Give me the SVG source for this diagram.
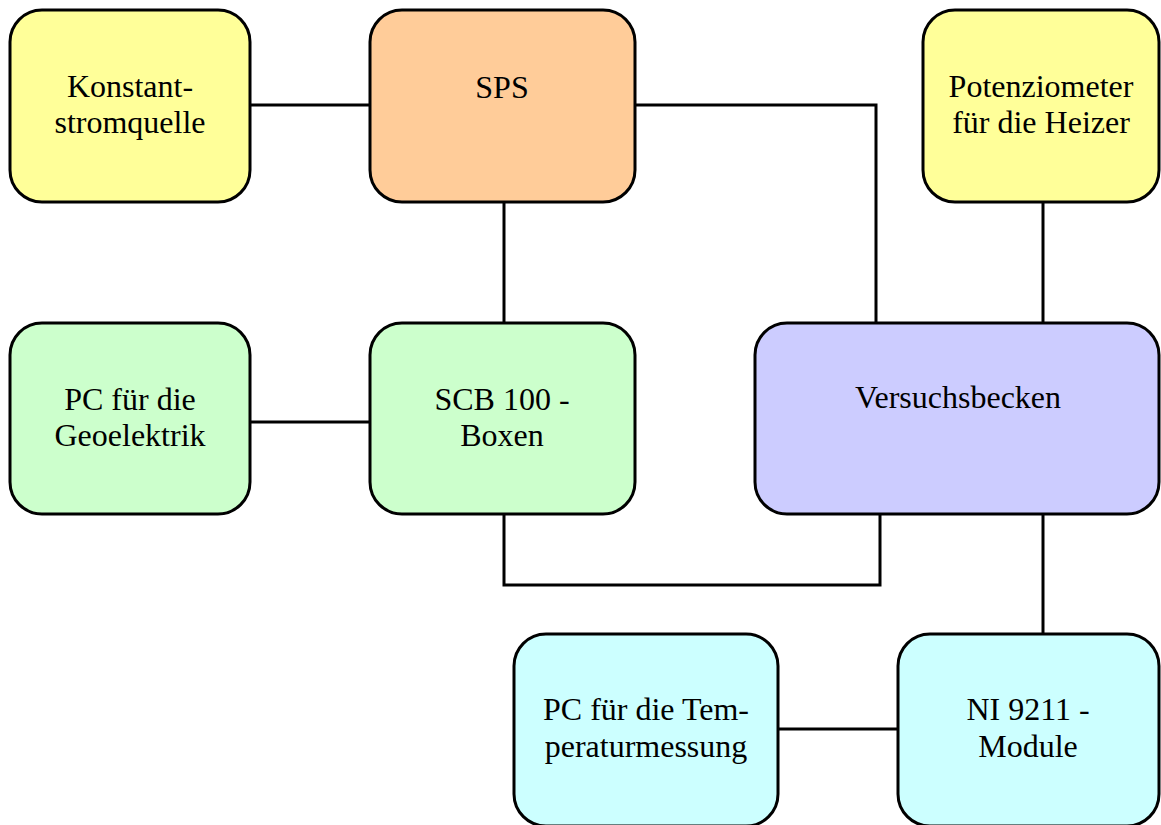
<svg xmlns="http://www.w3.org/2000/svg" width="1161" height="825" viewBox="0 0 1161 825">
<style>
.box{stroke:#000;stroke-width:3}
.t{font-family:"Liberation Serif","Times New Roman",serif;font-size:32px;fill:#000;text-anchor:middle}
.c{fill:none;stroke:#000;stroke-width:3}
</style>
<rect width="1161" height="825" fill="#fff"/>
<g id="connectors">
<line class="c" x1="250" y1="105" x2="370" y2="105"/>
<polyline class="c" points="635,105 876,105 876,323"/>
<line class="c" x1="1043" y1="202" x2="1043" y2="323"/>
<line class="c" x1="504" y1="202" x2="504" y2="323"/>
<line class="c" x1="250" y1="422" x2="370" y2="422"/>
<polyline class="c" points="504,514 504,585 880,585 880,514"/>
<line class="c" x1="1043" y1="514" x2="1043" y2="634"/>
<line class="c" x1="778" y1="729" x2="898" y2="729"/>
</g>
<g id="konstant">
<rect class="box" x="10" y="10" width="240" height="192" rx="32" fill="#FFFF99"/>
<text class="t" x="130" y="97">Konstant-</text>
<text class="t" x="130" y="133">stromquelle</text>
</g>
<g id="sps">
<rect class="box" x="370" y="10" width="265" height="192" rx="32" fill="#FFCC99"/>
<text class="t" x="502" y="98">SPS</text>
</g>
<g id="potenziometer">
<rect class="box" x="923" y="10" width="236" height="192" rx="32" fill="#FFFF99"/>
<text class="t" x="1041" y="97">Potenziometer</text>
<text class="t" x="1041" y="133">für die Heizer</text>
</g>
<g id="pcgeo">
<rect class="box" x="10" y="323" width="240" height="191" rx="32" fill="#CCFFCC"/>
<text class="t" x="130" y="410">PC für die</text>
<text class="t" x="130" y="446">Geoelektrik</text>
</g>
<g id="scb">
<rect class="box" x="370" y="323" width="265" height="191" rx="32" fill="#CCFFCC"/>
<text class="t" x="502" y="410">SCB 100 -</text>
<text class="t" x="502" y="446">Boxen</text>
</g>
<g id="versuchsbecken">
<rect class="box" x="755" y="323" width="404" height="191" rx="32" fill="#CCCCFF"/>
<text class="t" x="958" y="408">Versuchsbecken</text>
</g>
<g id="pctemp">
<rect class="box" x="514" y="634" width="264" height="192" rx="32" fill="#CCFFFF"/>
<text class="t" x="646" y="720">PC für die Tem-</text>
<text class="t" x="646" y="757">peraturmessung</text>
</g>
<g id="ni">
<rect class="box" x="898" y="634" width="261" height="192" rx="32" fill="#CCFFFF"/>
<text class="t" x="1028" y="720">NI 9211 -</text>
<text class="t" x="1028" y="757">Module</text>
</g>
</svg>
